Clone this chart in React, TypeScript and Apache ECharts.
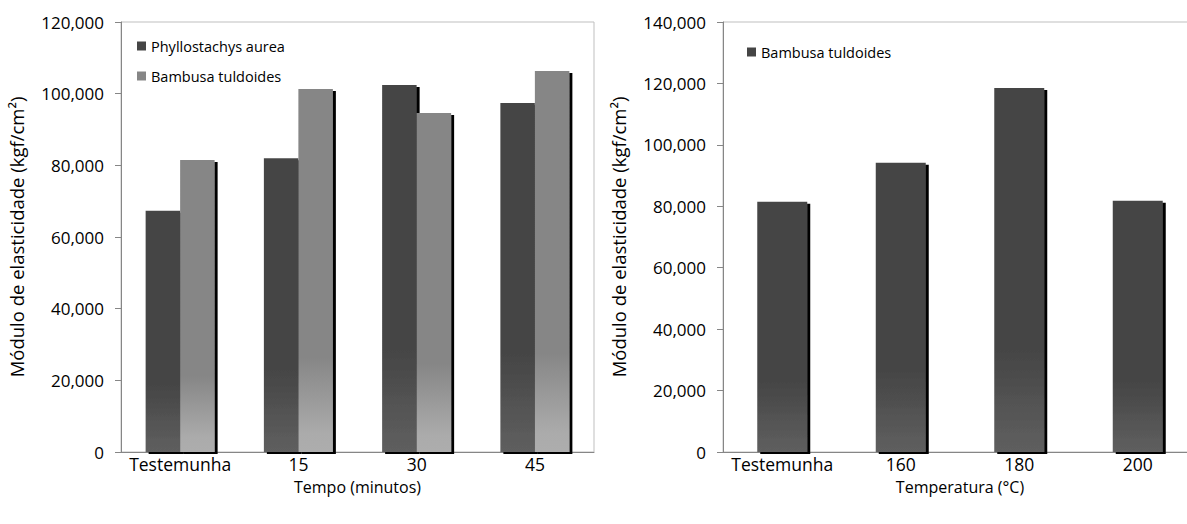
import React, { useEffect, useRef } from "react";
import * as echarts from "echarts";

// Categories and measured moduli of elasticity (kgf/cm²)
const timeCategories = ["Testemunha", "15", "30", "45"];
const phyllostachysByTime = [67300, 82000, 102400, 97400];
const bambusaByTime = [81500, 101300, 94600, 106300];

const tempCategories = ["Testemunha", "160", "180", "200"];
const bambusaByTemp = [81500, 94200, 118500, 81800];

const FONT = "Open Sans";
const AXIS_GREY = "#868686";

const darkFill = {
  type: "linear",
  x: 0, y: 0, x2: 0, y2: 1,
  colorStops: [
    { offset: 0, color: "#454545" },
    { offset: 0.72, color: "#454545" },
    { offset: 0.95, color: "#5b5b5b" },
    { offset: 1, color: "#5e5e5e" },
  ],
};

const greyFill = {
  type: "linear",
  x: 0, y: 0, x2: 0, y2: 1,
  colorStops: [
    { offset: 0, color: "#868686" },
    { offset: 0.74, color: "#868686" },
    { offset: 0.95, color: "#ababab" },
    { offset: 1, color: "#adadad" },
  ],
};

const dropShadow = {
  shadowColor: "#000000",
  shadowOffsetX: 3,
  shadowOffsetY: 2,
  shadowBlur: 0,
};

const noShadow = {
  shadowBlur: 0,
  shadowOffsetX: 0,
  shadowOffsetY: 0,
  shadowColor: "transparent",
};

const thousands = (v: number) => v.toLocaleString("en-US");

function valueAxis(gridIndex: number, max: number) {
  return {
    type: "value",
    gridIndex,
    min: 0,
    max,
    interval: 20000,
    name: "Módulo de elasticidade (kgf/cm²)",
    nameLocation: "middle",
    nameGap: 95,
    nameRotate: 90,
    nameTextStyle: { fontFamily: FONT, fontSize: 18.5, color: "#000" },
    axisLine: { show: true, lineStyle: { color: AXIS_GREY, width: 1 } },
    axisTick: { show: true, length: 6, lineStyle: { color: AXIS_GREY } },
    axisLabel: {
      formatter: thousands,
      fontFamily: FONT,
      fontSize: 17,
      color: "#000",
      margin: 17,
    },
    splitLine: { show: false },
  };
}

function categoryAxis(gridIndex: number, data: string[], name: string) {
  return {
    type: "category",
    gridIndex,
    data,
    name,
    nameLocation: "middle",
    nameGap: 27,
    nameTextStyle: { fontFamily: FONT, fontSize: 16, color: "#000" },
    axisLine: { show: true, lineStyle: { color: AXIS_GREY, width: 1 } },
    axisTick: { show: false },
    axisLabel: {
      interval: 0,
      fontFamily: FONT,
      fontSize: 17.5,
      color: "#000",
      margin: 3,
    },
  };
}

export default function App() {
  const ref = useRef<HTMLDivElement>(null);

  useEffect(() => {
    if (!ref.current) return;
    const chart = echarts.init(ref.current, undefined, { renderer: "svg" });

    chart.setOption({
      animation: false,
      backgroundColor: "#ffffff",
      textStyle: { fontFamily: FONT },
      grid: [
        { left: 121, top: 22, width: 473, height: 430, show: true, borderColor: "#bfbfbf", borderWidth: 1 },
        { left: 723, top: 22, width: 474, height: 430, show: true, borderColor: "#bfbfbf", borderWidth: 1 },
      ],
      legend: [
        {
          orient: "vertical",
          left: 132,
          top: 33,
          icon: "rect",
          itemWidth: 9,
          itemHeight: 9,
          itemGap: 14,
          textStyle: { fontFamily: FONT, fontSize: 14.5, lineHeight: 16, color: "#000" },
          data: [
            { name: "Phyllostachys aurea", itemStyle: { color: "#454545", ...noShadow } },
            { name: "Bambusa tuldoides", itemStyle: { color: "#868686", ...noShadow } },
          ],
          selectedMode: false,
        },
        {
          orient: "vertical",
          left: 742,
          top: 39,
          icon: "rect",
          itemWidth: 9,
          itemHeight: 9,
          textStyle: { fontFamily: FONT, fontSize: 14.5, lineHeight: 16, color: "#000" },
          data: [
            { name: "Bambusa tuldoides", itemStyle: { color: "#454545", ...noShadow } },
          ],
          selectedMode: false,
        },
      ],
      xAxis: [
        categoryAxis(0, timeCategories, "Tempo (minutos)"),
        categoryAxis(1, tempCategories, "Temperatura (°C)"),
      ],
      yAxis: [valueAxis(0, 120000), valueAxis(1, 140000)],
      series: [
        {
          type: "bar",
          name: "Phyllostachys aurea",
          xAxisIndex: 0,
          yAxisIndex: 0,
          data: phyllostachysByTime,
          barWidth: 34.5,
          barGap: "0%",
          itemStyle: { color: darkFill, ...dropShadow },
        },
        {
          type: "bar",
          name: "Bambusa tuldoides",
          xAxisIndex: 0,
          yAxisIndex: 0,
          data: bambusaByTime,
          barWidth: 34.5,
          barGap: "0%",
          itemStyle: { color: greyFill, ...dropShadow },
        },
        {
          type: "bar",
          name: "Bambusa tuldoides",
          xAxisIndex: 1,
          yAxisIndex: 1,
          data: bambusaByTemp,
          barWidth: 50,
          itemStyle: { color: darkFill, ...dropShadow },
        },
      ],
    });

    return () => chart.dispose();
  }, []);

  return (
    <div
      ref={ref}
      style={{ position: "fixed", left: 0, top: 0, width: 1200, height: 524 }}
    />
  );
}
